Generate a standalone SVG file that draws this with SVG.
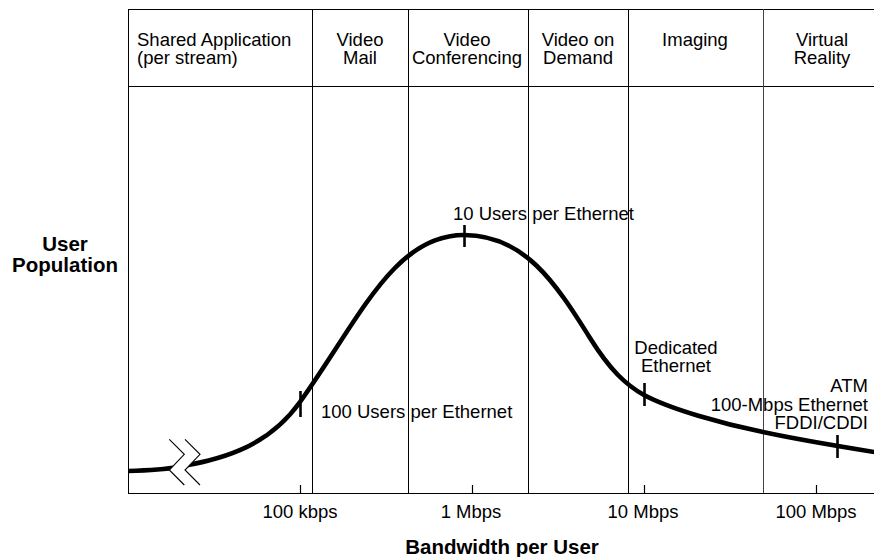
<svg xmlns="http://www.w3.org/2000/svg" width="874" height="557" viewBox="0 0 874 557">
  <style>
    .grid { stroke: #000; stroke-width: 1; fill: none; }
    .tick { stroke: #000; stroke-width: 1.2; }
    .mark { stroke: #000; stroke-width: 2.6; }
    .curve { stroke: #000; stroke-width: 4.6; fill: none; stroke-linecap: butt; stroke-linejoin: round; }
    .brk { stroke: #000; stroke-width: 1.1; fill: none; }
    text { font-family: "Liberation Sans", Arial, Helvetica, sans-serif; font-size: 18.5px; fill: #000; }
    .c { text-anchor: middle; }
    .r { text-anchor: end; }
    .b { font-weight: bold; font-size: 20.5px; }
  </style>
  <rect width="874" height="557" fill="#fff"/>

  <!-- chart frame and category columns -->
  <g id="frame" class="grid">
    <line x1="128" y1="9.5" x2="874" y2="9.5"/>
    <line x1="128" y1="86.5" x2="874" y2="86.5"/>
    <line x1="128" y1="493.5" x2="874" y2="493.5"/>
    <line x1="128.5" y1="9" x2="128.5" y2="494"/>
    <line x1="312.5" y1="9" x2="312.5" y2="493"/>
    <line x1="408.5" y1="9" x2="408.5" y2="493"/>
    <line x1="528.5" y1="9" x2="528.5" y2="493"/>
    <line x1="628.5" y1="9" x2="628.5" y2="493"/>
    <line x1="763.5" y1="9" x2="763.5" y2="493" stroke="#444"/>
  </g>

  <!-- column headings -->
  <g id="col-shared">
    <text x="137" y="46">Shared Application</text>
    <text x="137" y="64">(per stream)</text>
  </g>
  <g id="col-videomail">
    <text class="c" x="360" y="46">Video</text>
    <text class="c" x="360" y="64">Mail</text>
  </g>
  <g id="col-videoconf">
    <text class="c" x="467" y="46">Video</text>
    <text class="c" x="467" y="64">Conferencing</text>
  </g>
  <g id="col-vod">
    <text class="c" x="578" y="46">Video on</text>
    <text class="c" x="578" y="64">Demand</text>
  </g>
  <g id="col-imaging">
    <text class="c" x="695" y="46">Imaging</text>
  </g>
  <g id="col-vr">
    <text class="c" x="822" y="46">Virtual</text>
    <text class="c" x="822" y="64">Reality</text>
  </g>

  <!-- axis titles -->
  <g id="y-axis-title">
    <text class="c b" x="65" y="251">User</text>
    <text class="c b" x="65" y="272">Population</text>
  </g>
  <g id="x-axis-title">
    <text class="c b" x="502" y="554">Bandwidth per User</text>
  </g>

  <!-- x-axis ticks and labels -->
  <g id="x-axis">
    <line class="tick" x1="300.5" y1="485" x2="300.5" y2="493"/>
    <line class="tick" x1="472.5" y1="485" x2="472.5" y2="493"/>
    <line class="tick" x1="644.5" y1="485" x2="644.5" y2="493"/>
    <line class="tick" x1="816.5" y1="485" x2="816.5" y2="493"/>
    <text class="c" x="300" y="518">100 kbps</text>
    <text class="c" x="471" y="518">1 Mbps</text>
    <text class="c" x="643" y="518">10 Mbps</text>
    <text class="c" x="816" y="518">100 Mbps</text>
  </g>

  <!-- population curve -->
  <g id="connectors">
    <path class="curve" d="M128,471 C145,470.5 163,469.8 178,467 C215,460 265,451 300,402 C360,318 394,235 464,235 C524,235 555,282 590,338 C610,370 626,385 644,395 C670,409 723,424 763,432 C800,440 840,446.5 876,452.3"/>
    <!-- scale break -->
    <polygon points="169.3,439.3 184.3,454.3 169.3,470 184.3,485 200,485 185,470 200,454.3 185,439.3" fill="#fff"/>
    <polyline class="brk" points="169.3,439.3 184.3,454.3 169.3,470 184.3,485"/>
    <polyline class="brk" points="185,439.3 200,454.3 185,470 200,485"/>
  </g>

  <!-- labelled points on the curve -->
  <g id="pt-100users">
    <line class="mark" x1="300.5" y1="391" x2="300.5" y2="417"/>
    <text x="321" y="418">100 Users per Ethernet</text>
  </g>
  <g id="pt-10users">
    <line class="mark" x1="464.5" y1="225" x2="464.5" y2="247"/>
    <text x="453" y="219.5">10 Users per Ethernet</text>
  </g>
  <g id="pt-dedicated">
    <line class="mark" x1="644.5" y1="383" x2="644.5" y2="406"/>
    <text class="c" x="676" y="353.5">Dedicated</text>
    <text class="c" x="676" y="372">Ethernet</text>
  </g>
  <g id="pt-atm">
    <line class="mark" x1="837.5" y1="435" x2="837.5" y2="458"/>
    <text class="r" x="868" y="391.5">ATM</text>
    <text class="r" x="868" y="410.5">100-Mbps Ethernet</text>
    <text class="r" x="868" y="429">FDDI/CDDI</text>
  </g>
</svg>
